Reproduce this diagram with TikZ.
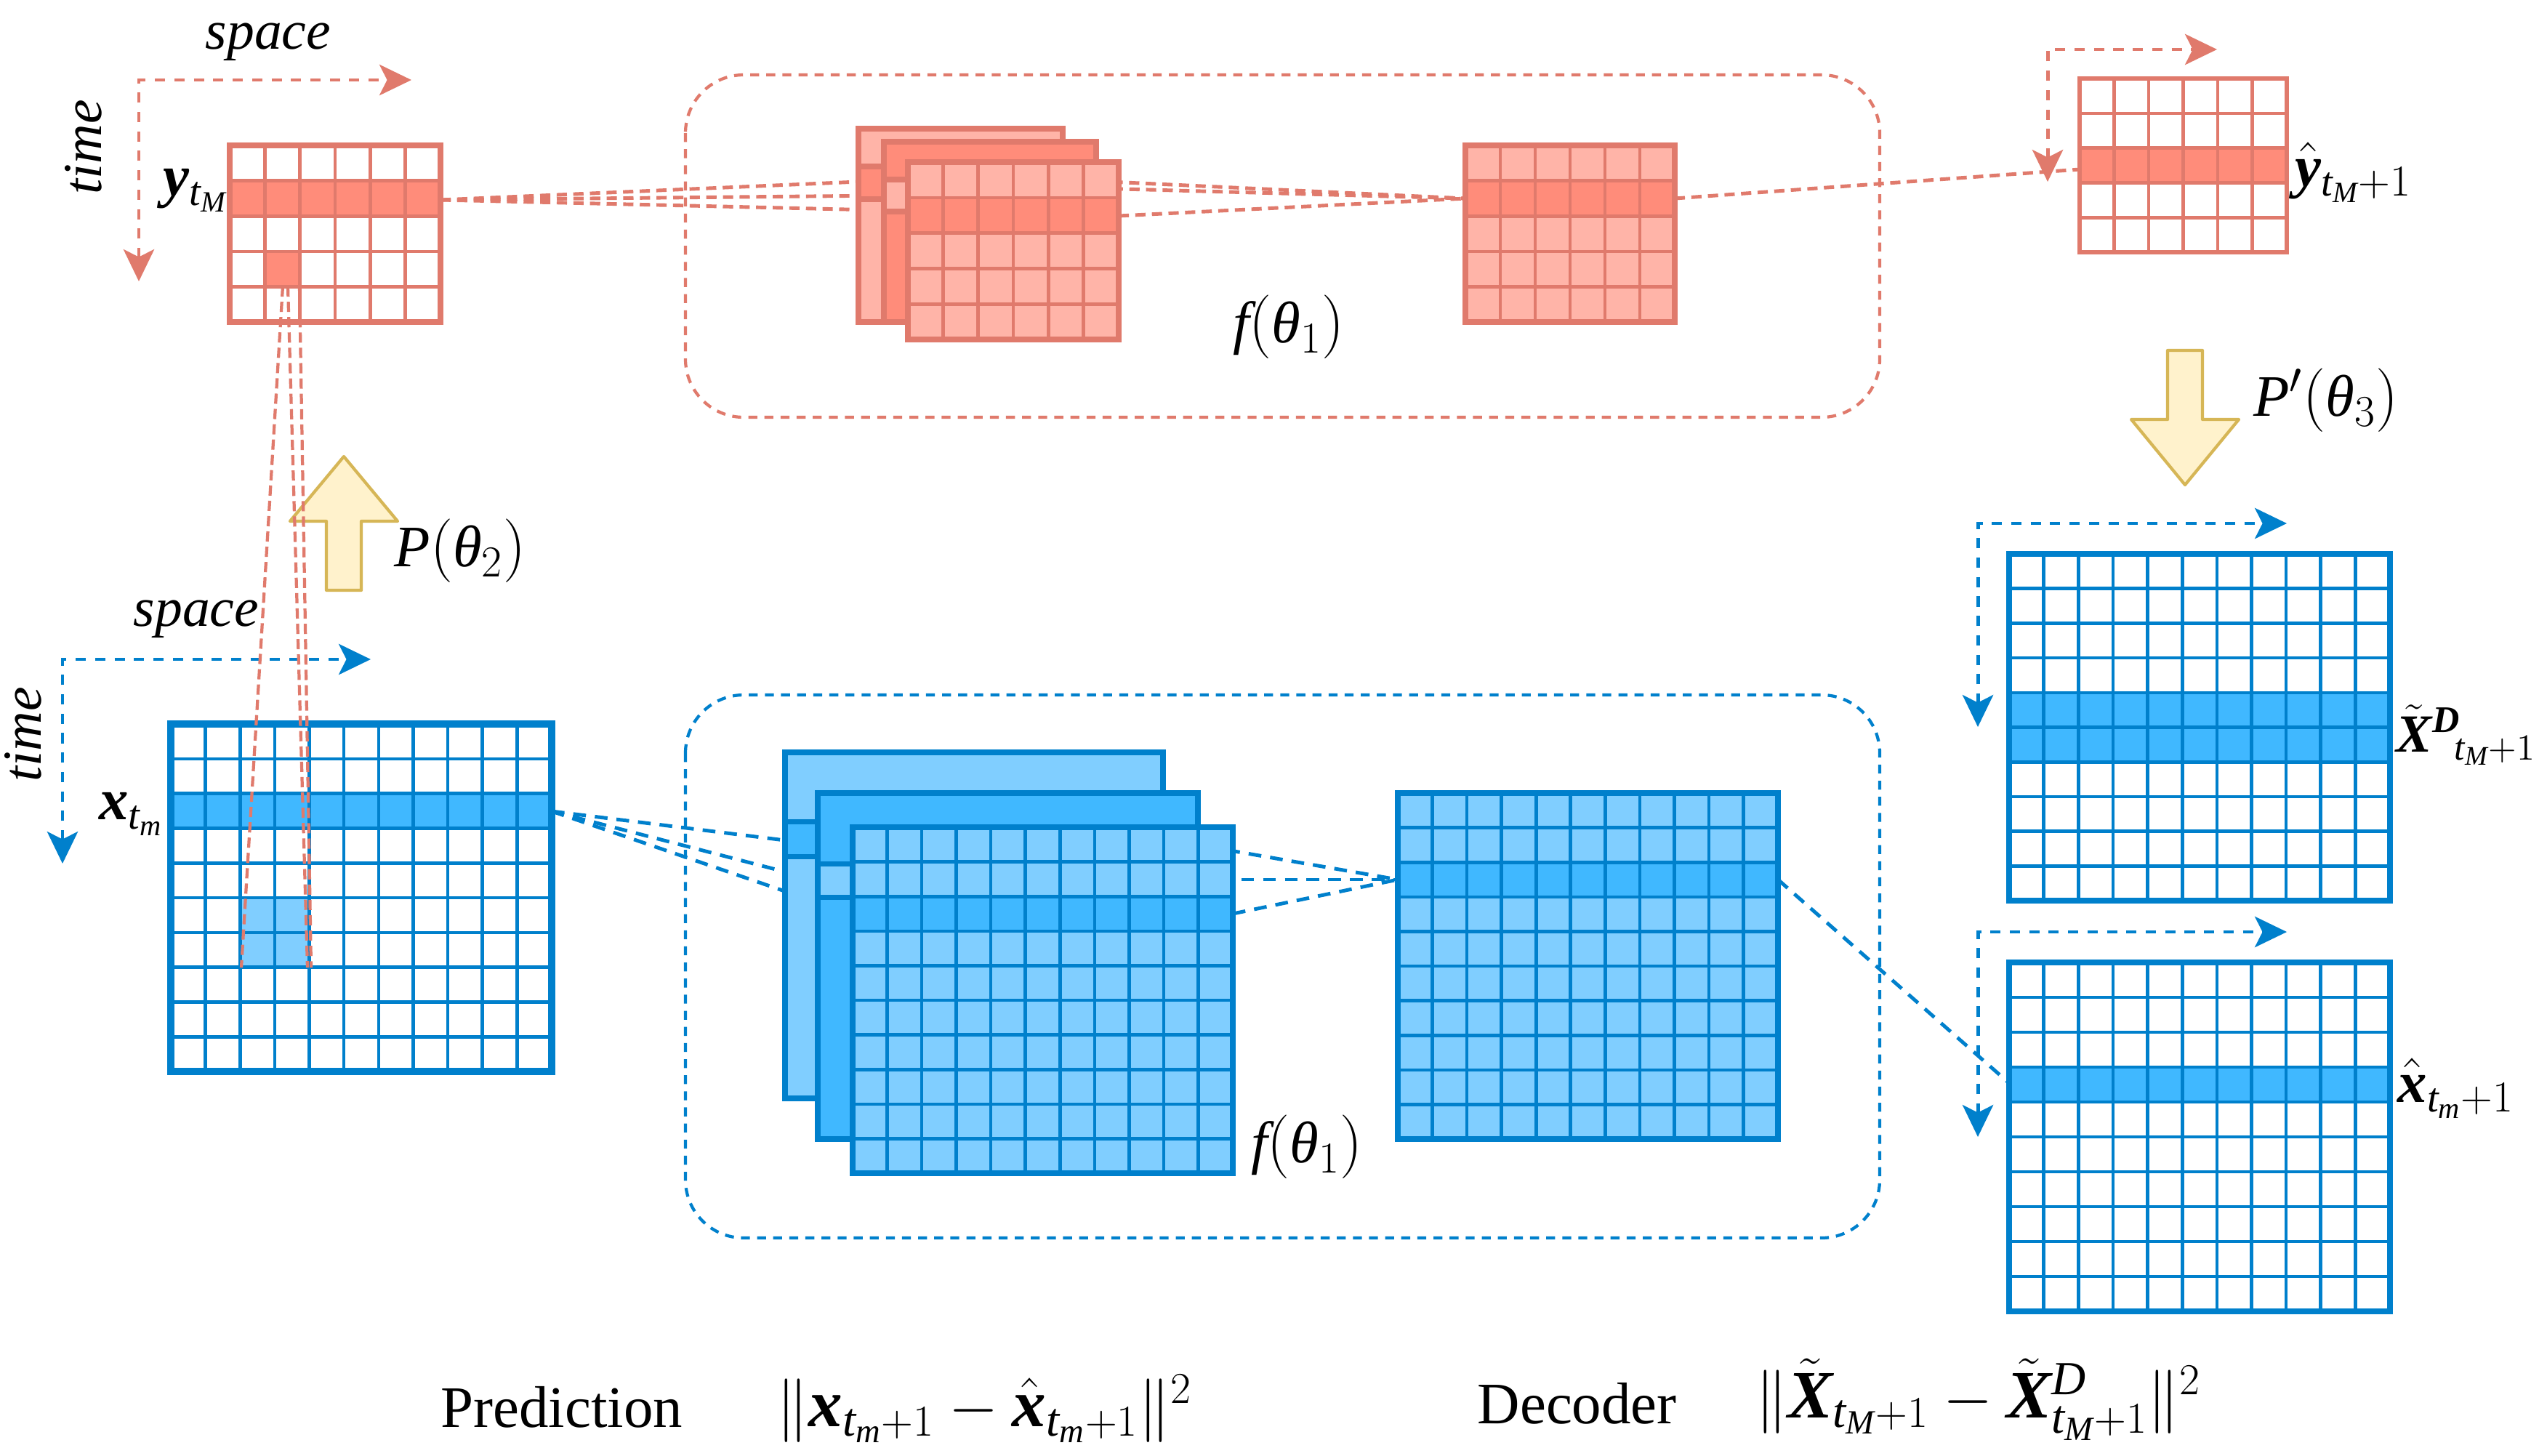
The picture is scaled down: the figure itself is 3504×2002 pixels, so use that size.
\documentclass[tikz,border=0pt]{standalone}
\usepackage{amsmath}
\usepackage{fontspec}
\setmainfont{Liberation Serif}
\DeclareSymbolFont{letters}{TU}{\rmdefault}{m}{it}
\DeclareMathAlphabet\mathbfit{TU}{\rmdefault}{b}{it}
\AtBeginDocument{\Umathchardef\theta="0 \symletters "03B8 }
\usetikzlibrary{arrows.meta}
\definecolor{redS}{RGB}{224,122,108}
\definecolor{redD}{RGB}{255,140,122}
\definecolor{redL}{RGB}{255,180,168}
\definecolor{bluS}{RGB}{0,128,204}
\definecolor{bluD}{RGB}{64,184,255}
\definecolor{bluL}{RGB}{128,206,255}
\definecolor{yelF}{RGB}{255,242,204}
\definecolor{yelS}{RGB}{214,182,86}
% grid lines + border: x0 y0 x1 y1 ncols nrows colour outer-width
\newcommand\gridbox[8]{%
  \pgfmathsetmacro\gw{(#3-#1)/#5}\pgfmathsetmacro\gh{(#4-#2)/#6}%
  \pgfmathtruncatemacro\ncm{#5-1}\pgfmathtruncatemacro\nrm{#6-1}%
  \foreach \i in {1,...,\ncm}{\draw[#7,line width=1.3pt] ({#1+\i*\gw},#2) -- ({#1+\i*\gw},#4);}%
  \foreach \j in {1,...,\nrm}{\draw[#7,line width=1.3pt] (#1,{#2+\j*\gh}) -- (#3,{#2+\j*\gh});}%
  \draw[#7,line width=#8] (#1,#2) rectangle (#3,#4);}
% fill a row: x0 y0 x1 y1 nrows row colour
\newcommand\fillrow[7]{%
  \pgfmathsetmacro\gh{(#4-#2)/#5}%
  \fill[#7] (#1,{#2+#6*\gh}) rectangle (#3,{#2+(#6+1)*\gh});}
% fill a cell: x0 y0 x1 y1 ncols nrows col row colour
\newcommand\fillcell[9]{%
  \pgfmathsetmacro\gw{(#3-#1)/#5}\pgfmathsetmacro\gh{(#4-#2)/#6}%
  \fill[#9] ({#1+#7*\gw},{#2+#8*\gh}) rectangle ({#1+(#7+1)*\gw},{#2+(#8+1)*\gh});}
\tikzset{
  axtip/.tip={Stealth[length=12.5pt,width=12pt,inset=3pt]},
  lbl/.style={inner sep=0pt, font=\fontsize{21.5}{26}\selectfont},
  mlbl/.style={inner sep=0pt, font=\fontsize{23}{28}\selectfont},
  flbl/.style={inner sep=0pt, font=\fontsize{26.5}{31}\selectfont},
  axR/.style={draw=redS, line width=1.4pt, dash pattern=on 4pt off 3.6pt, axtip-axtip},
  axB/.style={draw=bluS, line width=1.4pt, dash pattern=on 4pt off 3.6pt, axtip-axtip},
  conR/.style={draw=redS, line width=1.4pt, dash pattern=on 4pt off 2.5pt},
  conB/.style={draw=bluS, line width=1.4pt, dash pattern=on 5pt off 3.5pt},
  boxR/.style={draw=redS, line width=1.2pt, dash pattern=on 3.5pt off 2.8pt, rounded corners=0.8cm},
  boxB/.style={draw=bluS, line width=1.2pt, dash pattern=on 3.5pt off 2.8pt, rounded corners=0.8cm},
  rfline/.style={draw=redS, line width=1.2pt, dash pattern=on 4pt off 2pt},
  yarr/.style={fill=yelF, draw=yelS, line width=1.2pt, line join=round},
}
\begin{document}
\begin{tikzpicture}[x=0.01cm,y=-0.01cm]
\useasboundingbox (0,0) rectangle (3504,2002);
\fill[white] (0,0) rectangle (3504,2002);

% ---------- connector end points ----------
\coordinate (yM-out) at (606,275);
\coordinate (rA-in) at (1181,250);  \coordinate (rA-out) at (1462,247);
\coordinate (rB-in) at (1216,269);  \coordinate (rB-out) at (1508,259);
\coordinate (rC-in) at (1249,290);  \coordinate (rC-out) at (1539,297);
\coordinate (rD-in) at (2016,273);  \coordinate (rD-out) at (2304,273);
\coordinate (yhat-in) at (2861,233);
\coordinate (x-out) at (759,1116);
\coordinate (bA-in) at (1080,1156); \coordinate (bA-out) at (1600,1154);
\coordinate (bB-in) at (1125,1211); \coordinate (bB-out) at (1648,1210);
\coordinate (bC-in) at (1173,1258); \coordinate (bC-out) at (1696,1257);
\coordinate (bD-in) at (1923,1210); \coordinate (bD-out) at (2446,1210);
\coordinate (xhat-in) at (2764,1490);
\coordinate (cellA) at (389,394); \coordinate (blkA) at (332,1331);
\coordinate (cellB) at (396,394); \coordinate (blkB) at (423,1331);
\coordinate (cellC) at (412,394); \coordinate (blkC) at (428,1331);

% ---------- rounded dashed frames ----------
\draw[boxR] (943,103) rectangle (2586,574);
\draw[boxB] (943,956) rectangle (2586,1703);

% ---------- connectors behind the maps ----------
\draw[conR] (yM-out) -- (rA-in);
\draw[conR] (yM-out) -- (rB-in);
\draw[conR] (yM-out) -- (rC-in);
\draw[conR] (rA-out) -- (rD-in);
\draw[conR] (rB-out) -- (rD-in);
\draw[conR] (rC-out) -- (rD-in);
\draw[conR] (rD-out) -- (yhat-in);
\draw[conB] (x-out) -- (bA-in);
\draw[conB] (x-out) -- (bB-in);
\draw[conB] (x-out) -- (bC-in);
\draw[conB] (bA-out) -- (bD-in);
\draw[conB] (bB-out) -- (bD-in);
\draw[conB] (bC-out) -- (bD-in);
\draw[conB] (bD-out) -- (xhat-in);

% ---------- red: input y ----------
\fill[white] (316,200) rectangle (606,443);
\fillrow{316}{200}{606}{443}{5}{1}{redD}
\fillcell{316}{200}{606}{443}{6}{5}{1}{3}{redD}
\gridbox{316}{200}{606}{443}{6}{5}{redS}{2.5pt}

% ---------- red stack ----------
\fill[redL] (1181,177) rectangle (1462,443);
\fill[redD] (1181,229) rectangle (1462,274);
\draw[redS,line width=2pt] (1181,229) -- (1462,229) (1181,274) -- (1462,274);
\draw[redS,line width=2.4pt] (1181,177) rectangle (1462,443);
\fill[redD] (1216,195) rectangle (1508,443);
\fill[redL] (1216,247) rectangle (1508,291);
\draw[redS,line width=2pt] (1216,247) -- (1508,247) (1216,291) -- (1508,291);
\draw[redS,line width=2.4pt] (1216,195) rectangle (1508,443);
\fill[redL] (1249,223) rectangle (1539,467);
\fillrow{1249}{223}{1539}{467}{5}{1}{redD}
\gridbox{1249}{223}{1539}{467}{6}{5}{redS}{2.4pt}
% red output map
\fill[redL] (2016,200) rectangle (2304,443);
\fillrow{2016}{200}{2304}{443}{5}{1}{redD}
\gridbox{2016}{200}{2304}{443}{6}{5}{redS}{2.4pt}
% y hat
\fill[white] (2861,108) rectangle (3146,347);
\fillrow{2861}{108}{3146}{347}{5}{2}{redD}
\gridbox{2861}{108}{3146}{347}{6}{5}{redS}{1.5pt}

% ---------- blue: input x ----------
\fill[white] (235,996) rectangle (759,1474);
\fillrow{235}{996}{759}{1474}{10}{2}{bluD}
\fillcell{235}{996}{759}{1474}{11}{10}{2}{5}{bluL}
\fillcell{235}{996}{759}{1474}{11}{10}{3}{5}{bluL}
\fillcell{235}{996}{759}{1474}{11}{10}{2}{6}{bluL}
\fillcell{235}{996}{759}{1474}{11}{10}{3}{6}{bluL}
\gridbox{235}{996}{759}{1474}{11}{10}{bluS}{2.6pt}

% ---------- blue stack ----------
\fill[bluL] (1080,1035) rectangle (1600,1511);
\fill[bluD] (1080,1130) rectangle (1600,1178);
\draw[bluS,line width=2pt] (1080,1130) -- (1600,1130) (1080,1178) -- (1600,1178);
\draw[bluS,line width=2.4pt] (1080,1035) rectangle (1600,1511);
\fill[bluD] (1125,1091) rectangle (1648,1567);
\fill[bluL] (1125,1188) rectangle (1648,1234);
\draw[bluS,line width=2pt] (1125,1188) -- (1648,1188) (1125,1234) -- (1648,1234);
\draw[bluS,line width=2.4pt] (1125,1091) rectangle (1648,1567);
\fill[bluL] (1173,1138) rectangle (1696,1614);
\fillrow{1173}{1138}{1696}{1614}{10}{2}{bluD}
\gridbox{1173}{1138}{1696}{1614}{11}{10}{bluS}{2.4pt}
% blue output map
\fill[bluL] (1923,1091) rectangle (2446,1567);
\fillrow{1923}{1091}{2446}{1567}{10}{2}{bluD}
\gridbox{1923}{1091}{2446}{1567}{11}{10}{bluS}{2.4pt}
% X tilde D
\fill[white] (2764,762) rectangle (3288,1239);
\fillrow{2764}{762}{3288}{1239}{10}{4}{bluD}
\fillrow{2764}{762}{3288}{1239}{10}{5}{bluD}
\gridbox{2764}{762}{3288}{1239}{11}{10}{bluS}{2.4pt}
% x hat
\fill[white] (2764,1324) rectangle (3288,1804);
\fillrow{2764}{1324}{3288}{1804}{10}{3}{bluD}
\gridbox{2764}{1324}{3288}{1804}{11}{10}{bluS}{2.4pt}

% ---------- axes ----------
\coordinate (aR1c) at (191,110); \coordinate (aR1r) at (566,110); \coordinate (aR1d) at (191,387);
\draw[axR] (aR1d) -- (aR1c) -- (aR1r);
\coordinate (aR2c) at (2817,68); \coordinate (aR2r) at (3050,68); \coordinate (aR2d) at (2817,250);
\draw[axR] (aR2d) -- (aR2c) -- (aR2r);
\coordinate (aB1c) at (86,907); \coordinate (aB1r) at (510,907); \coordinate (aB1d) at (86,1188);
\draw[axB] (aB1d) -- (aB1c) -- (aB1r);
\coordinate (aB2c) at (2721,720); \coordinate (aB2r) at (3146,720); \coordinate (aB2d) at (2721,1000);
\draw[axB] (aB2d) -- (aB2c) -- (aB2r);
\coordinate (aB3c) at (2721,1282); \coordinate (aB3r) at (3146,1282); \coordinate (aB3d) at (2721,1564);
\draw[axB] (aB3d) -- (aB3c) -- (aB3r);

% ---------- yellow arrows ----------
\draw[yarr] (473,628) -- (547,717) -- (497,717) -- (497,812) -- (449,812) -- (449,717) -- (399,717) -- cycle;
\draw[yarr] (3006,667) -- (3080,577) -- (3030,577) -- (3030,482) -- (2982,482) -- (2982,577) -- (2932,577) -- cycle;

% ---------- receptive field lines ----------
\draw[rfline] (cellA) -- (blkA);
\draw[rfline] (cellB) -- (blkB);
\draw[rfline] (cellC) -- (blkC);

% ---------- labels ----------
\node[lbl] (spR) at (369,58) {\textit{space}};
\node[lbl, rotate=90] (tmR) at (115,202) {\textit{time}};
\node[mlbl, anchor=east] (lyM) at (314,262) {$\mathbfit{y}_{t_M}$};
\node[mlbl, anchor=west] (lyhat) at (3157,237) {$\hat{\mathbfit{y}}_{t_M+1}$};
\node[mlbl] (fR) at (1773,450) {$f(\theta_1)$};
\node[mlbl] (P2) at (633,758) {$P(\theta_2)$};
\node[mlbl] (P3) at (3200,551) {$P'(\theta_3)$};
\node[lbl] (spB) at (270,852) {\textit{space}};
\node[lbl, rotate=90] (tmB) at (32,1010) {\textit{time}};
\node[mlbl, anchor=east] (lx) at (226,1120) {$\mathbfit{x}_{t_m}$};
\node[mlbl] (fB) at (1798,1578) {$f(\theta_1)$};
\node[inner sep=0pt, font=\fontsize{21}{25}\selectfont, anchor=west] (lXD) at (3296,1011) {$\tilde{\mathbfit{X}}^{\mathbfit{D}}{}_{\!t_M+1}$};
\node[mlbl, anchor=west] (lxhat) at (3298,1497) {$\hat{\mathbfit{x}}_{t_m+1}$};
\node[mlbl, anchor=base west] (pred) at (606,1963) {Prediction};
\node[flbl, anchor=base west] (loss1) at (1068,1962) {$\|\mathbfit{x}_{t_m+1}-\hat{\mathbfit{x}}_{t_m+1}\|^2$};
\node[mlbl, anchor=base west] (dec) at (2032,1958) {Decoder};
\node[flbl, anchor=base west] (loss2) at (2415,1950) {$\|\tilde{\mathbfit{X}}_{t_M+1}-\tilde{\mathbfit{X}}^D_{t_M+1}\|^2$};
\end{tikzpicture}
\end{document}
